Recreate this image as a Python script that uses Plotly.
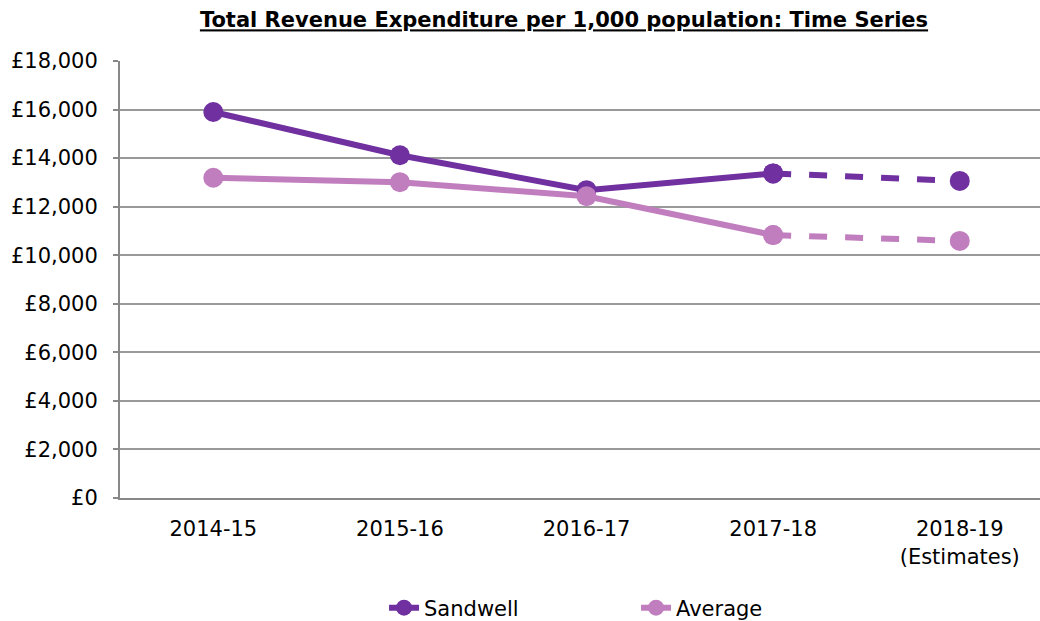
import plotly.graph_objects as go

categories = ["2014-15", "2015-16", "2016-17", "2017-18", "2018-19<br>(Estimates)"]
sandwell = [15900, 14120, 12680, 13370, 13060]
average = [13190, 13010, 12430, 10830, 10590]
y_ticks = [0, 2000, 4000, 6000, 8000, 10000, 12000, 14000, 16000, 18000]
y_tick_labels = ["£0", "£2,000", "£4,000", "£6,000", "£8,000", "£10,000",
                 "£12,000", "£14,000", "£16,000", "£18,000"]

C_SAND = "#7030A0"
C_AVG = "#C17EBF"
FONT = "DejaVu Sans"
FS = 21

fig = go.Figure()

def add_series(name, vals, color):
    # solid part (actuals)
    fig.add_trace(go.Scatter(
        x=categories[:4], y=vals[:4], name=name, mode="lines+markers",
        line=dict(color=color, width=6), marker=dict(color=color, size=20),
        legendgroup=name, showlegend=True))
    # dashed part (estimate)
    fig.add_trace(go.Scatter(
        x=categories[3:], y=vals[3:], name=name, mode="lines+markers",
        line=dict(color=color, width=6, dash="dash"), marker=dict(color=color, size=20),
        legendgroup=name, showlegend=False))

add_series("Sandwell", sandwell, C_SAND)
add_series("Average", average, C_AVG)

fig.update_layout(
    width=1040, height=621,
    margin=dict(l=120, r=0, t=61, b=123),
    paper_bgcolor="white", plot_bgcolor="white",
    font=dict(family=FONT, size=FS, color="#000000"),
    title=dict(text="<b><u>Total Revenue Expenditure per 1,000 population: Time Series</u></b>",
               x=564 / 1040, xanchor="center", y=1 - 20 / 621, yanchor="middle",
               font=dict(family=FONT, size=FS, color="#000000")),
    legend=dict(orientation="h", x=0.287, xanchor="left",
                yref="container", y=(621 - 608) / 621, yanchor="middle",
                traceorder="normal", font=dict(family=FONT, size=FS),
                entrywidth=207, entrywidthmode="pixels"),
    showlegend=True,
)

fig.update_xaxes(
    type="category", range=[-0.5, 4.43],
    showgrid=False, showline=True, linecolor="#888888", linewidth=2,
    ticks="", ticklabelstandoff=11,
    tickfont=dict(family=FONT, size=FS, color="#000000"),
)
fig.update_yaxes(
    range=[0, 18000], tickvals=y_ticks, ticktext=y_tick_labels,
    showgrid=True, gridcolor="#999999", gridwidth=2,
    showline=True, linecolor="#888888", linewidth=2,
    ticks="outside", ticklen=5, tickcolor="#888888", tickwidth=2,
    ticklabelstandoff=11, zeroline=False,
    tickfont=dict(family=FONT, size=FS, color="#000000"),
)

fig.write_html("out.html", config={"displayModeBar": False},
               post_script="document.body.style.margin='0px';")
